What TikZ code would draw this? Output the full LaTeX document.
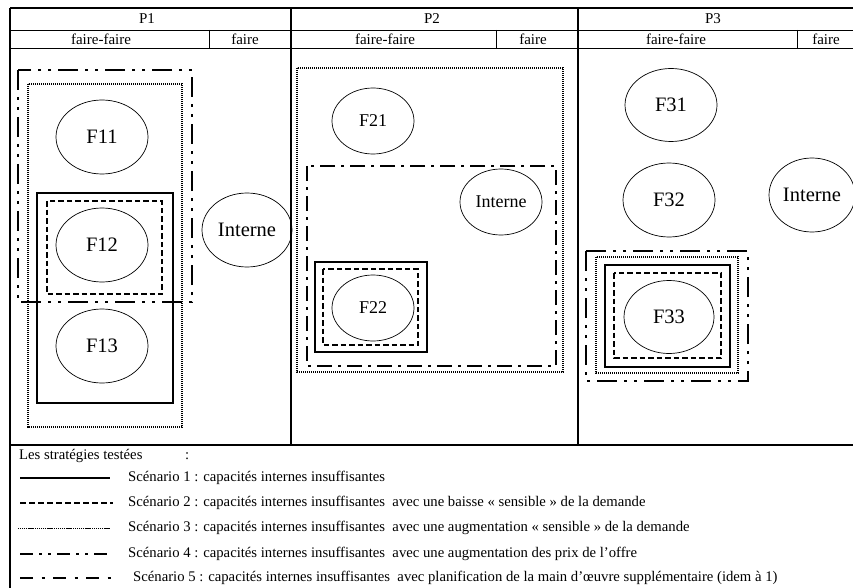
\documentclass[tikz,border=0pt]{standalone}
\usepackage{fontspec}
\setmainfont{Liberation Serif}
\usetikzlibrary{shapes.geometric}
\begin{document}
\begin{tikzpicture}[x=1pt,y=-1pt,
  tab/.style={line width=1.8pt},
  tabthin/.style={line width=0.9pt},
  hdr/.style={font=\fontsize{15}{17}\selectfont, inner sep=0pt},
  firm/.style={draw, ellipse, line width=0.7pt, inner sep=0pt, font=\fontsize{20.5}{24}\selectfont},
  firmsm/.style={firm, font=\fontsize{18}{21}\selectfont},
  leg/.style={anchor=west, inner sep=0pt, font=\fontsize{14.7}{17}\selectfont},
  scone/.style={line width=1.3pt},
  sctwo/.style={line width=1.6pt, dash pattern=on 5.5pt off 3pt},
  scthree/.style={line width=1.3pt, dash pattern=on 1.2pt off 0.8pt},
  scfour/.style={line width=2.4pt, dash pattern=on 20pt off 7pt on 3pt off 7pt on 3pt off 7pt},
  scfive/.style={line width=2.4pt, dash pattern=on 15pt off 6pt on 3pt off 6pt},
  legone/.style={line width=1.2pt},
  legtwo/.style={line width=1.5pt, dash pattern=on 6pt off 3pt},
  legthree/.style={line width=0.8pt, dash pattern=on 1.2pt off 0.7pt},
  legfour/.style={line width=1.8pt, dash pattern=on 13pt off 6pt on 3pt off 6pt on 3pt off 6pt},
  legfive/.style={line width=1.8pt, dash pattern=on 13pt off 8.5pt on 3pt off 8.5pt}
]
\useasboundingbox (0,0) rectangle (853,588);
\fill[white] (0,0) rectangle (853,588);

% table frame
\draw[tab] (10,8) -- (853,8);
\draw[tab] (10,8) -- (10,588);
\draw[tabthin] (10,30) -- (853,30);
\draw[tabthin] (10,48) -- (853,48);
\draw[tab] (10,445) -- (853,445);
\draw[tab] (291,8) -- (291,445);
\draw[tab] (578,8) -- (578,445);
\draw[tabthin] (209,30) -- (209,48);
\draw[tabthin] (496,30) -- (496,48);
\draw[tabthin] (797,30) -- (797,48);

% headers
\node[hdr] (hp1) at (147,19) {P1};
\node[hdr] (hp2) at (432,19) {P2};
\node[hdr] (hp3) at (713,19) {P3};
\node[hdr] (ff1) at (101,39) {faire-faire};
\node[hdr] (fa1) at (245,39) {faire};
\node[hdr] (ff2) at (385,39) {faire-faire};
\node[hdr] (fa2) at (533,39) {faire};
\node[hdr] (ff3) at (676,39) {faire-faire};
\node[hdr] (fa3) at (826,39) {faire};

% P1 groupings
\draw[scfour] (18,70) rectangle (192,302);
\draw[scthree] (28,84) rectangle (182,427);
\draw[scone] (37,193) rectangle (173,403);
\draw[sctwo] (47,201) rectangle (162,294);
% P2 groupings
\draw[scthree] (297,68) rectangle (563,372);
\draw[scfive] (307,166) rectangle (556,366);
\draw[scone] (315,262) rectangle (427,352);
\draw[sctwo] (323,269) rectangle (418,345);
% P3 groupings
\draw[scfour] (586,251) rectangle (748,381);
\draw[scthree] (596,257) rectangle (738,373);
\draw[scone] (605,265) rectangle (730,367);
\draw[sctwo] (614,273) rectangle (721,358);

% firms
\node[firm, minimum width=92pt, minimum height=74pt] (f11) at (102,137) {F11};
\node[firm, minimum width=92pt, minimum height=74pt] (f12) at (102,245) {F12};
\node[firm, minimum width=92pt, minimum height=74pt] (f13) at (102,346) {F13};
\node[firm, minimum width=90pt, minimum height=74pt] (int1) at (247,230) {Interne};
\node[firmsm, minimum width=82pt, minimum height=66pt] (f21) at (373,121) {F21};
\node[firmsm, minimum width=82pt, minimum height=66pt] (int2) at (501,202) {Interne};
\node[firmsm, minimum width=82pt, minimum height=66pt] (f22) at (373,308) {F22};
\node[firm, minimum width=92pt, minimum height=73pt] (f31) at (671,105) {F31};
\node[firm, minimum width=92pt, minimum height=74pt] (f32) at (669,200) {F32};
\node[firm, minimum width=86pt, minimum height=74pt] (int3) at (812,195) {Interne};
\node[firm, minimum width=90pt, minimum height=73pt] (f33) at (669,317) {F33};

% legend
\node[leg] (lestitle) at (19,456) {Les strat\'egies test\'ees};
\node[leg] (lescolon) at (185,456) {:};
\draw[legone] (20,478) -- (110,478);
\node[leg] (s1) at (128,478) {Sc\'enario 1 : capacit\'es internes insuffisantes};
\draw[legtwo] (20,503) -- (113,503);
\node[leg] (s2) at (128,503) {Sc\'enario 2 : capacit\'es internes insuffisantes\ \ avec une baisse « sensible » de la demande};
\draw[legthree] (18,528) -- (110,528);
\node[leg] (s3) at (128,528) {Sc\'enario 3 : capacit\'es internes insuffisantes\ \ avec une augmentation « sensible » de la demande};
\draw[legfour] (20,554) -- (110,554);
\node[leg] (s4) at (128,554) {Sc\'enario 4 : capacit\'es internes insuffisantes\ \ avec une augmentation des prix de l’offre};
\draw[legfive] (20,578) -- (113,578);
\node[leg] (s5) at (133,578) {Sc\'enario 5 : capacit\'es internes insuffisantes\ \ avec planification de la main d’œuvre suppl\'ementaire (idem \`a 1)};
\end{tikzpicture}
\end{document}
